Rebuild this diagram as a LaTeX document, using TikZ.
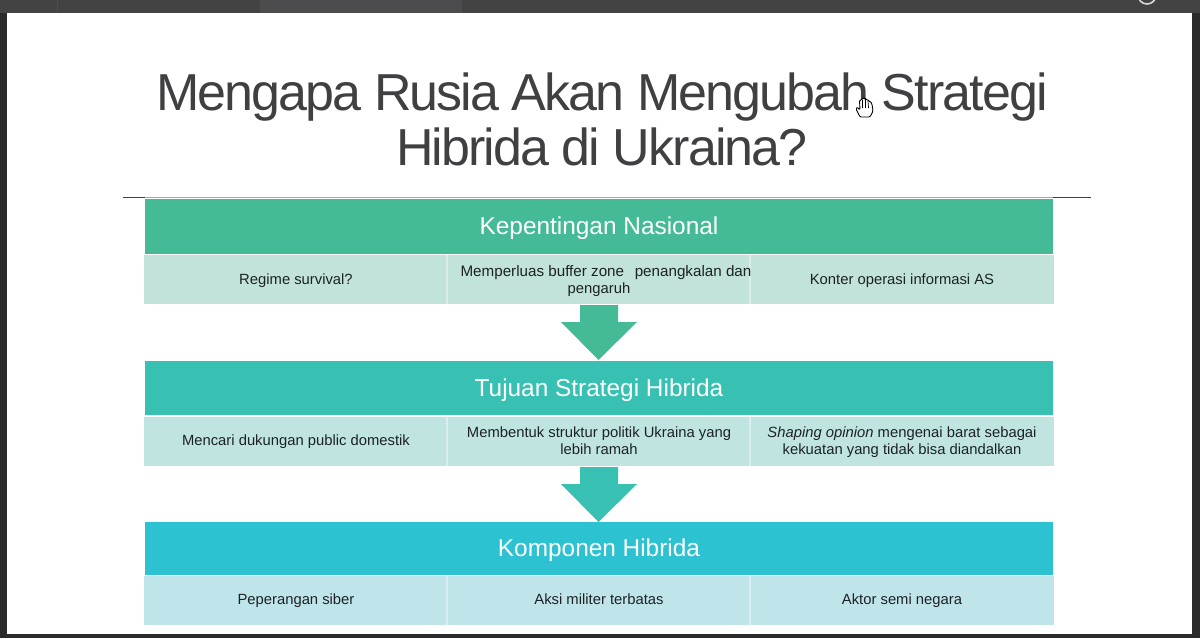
\documentclass[tikz,border=0pt]{standalone}
\usepackage{fontspec}
\setmainfont{Liberation Sans}
\newfontfamily\titlefont[LetterSpace=-3.7]{Liberation Sans}
\definecolor{frameC}{HTML}{2B2A2C}
\definecolor{barC}{HTML}{434343}
\definecolor{tabC}{HTML}{4C4B4D}
\definecolor{titleC}{HTML}{404043}
\definecolor{headA}{HTML}{45BA97}
\definecolor{rowA}{HTML}{C2E3D9}
\definecolor{headB}{HTML}{38C1B2}
\definecolor{rowB}{HTML}{C0E5E1}
\definecolor{headC}{HTML}{2CC2D1}
\definecolor{rowC}{HTML}{BFE5EA}
\definecolor{inkC}{HTML}{1C2226}
\tikzset{
  headbox/.style={inner sep=0pt,text=white,font=\fontsize{12.2}{14}\selectfont,anchor=center},
  celltext/.style={inner sep=0pt,text=inkC,align=center,font=\fontsize{7.4}{8.5}\selectfont,anchor=center},
  titletext/.style={inner sep=0pt,text=titleC,align=center,font=\titlefont\fontsize{26}{27.6}\selectfont,anchor=center},
}
\newcommand{\rowblock}[8]{%
  % #1 head top, #2 head bottom, #3 row top, #4 row bottom, #5 head colour, #6 row colour, #7 left inset, #8 head text
  \fill[#5] (#7,#1) rectangle ({1198-#7},#2);
  \fill[#6] (144,#3) rectangle (1054,#4);
  \draw[white,opacity=.4,line width=.6pt] (447,#3) -- (447,#4) (750,#3) -- (750,#4);
  \node[headbox] at (599,{(#1+#2)/2+2}) {#8};
}
\begin{document}
\begin{tikzpicture}[x=0.5pt,y=-0.5pt]
\useasboundingbox (0,0) rectangle (1200,638);
\fill[frameC] (0,0) rectangle (1200,638);
\fill[barC] (0,0) rectangle (1200,13);
\fill[tabC] (260,0) rectangle (461,13);
\draw[black!70,line width=.3pt] (57,0) -- (57,13) (260,0) -- (260,13) (461,0) -- (461,13);
\draw[white!85!black,line width=.8pt] (1147,-5) circle (9);
\fill[white] (7,13) rectangle (1191.5,634);
% title
\node[titletext] (title) at (602,127) {\strut Mengapa Rusia Akan Mengubah Strategi\\Hibrida di Ukraina?\strut};
% rule
\draw[black!75,line width=.4pt] (123,197.5) -- (145,197.5) (1053,197.5) -- (1091,197.5);
\draw[black!35,line width=.6pt] (145,197.5) -- (1053,197.5);
% block 1
\rowblock{199}{254}{255}{304}{headA}{rowA}{145}{Kepentingan Nasional}
\node[celltext] (a1) at (296,280.6) {\strut Regime survival?};
\node[celltext] (a2) at (599,281.5) {\strut\hspace*{7pt}{\fontsize{7.6}{8.5}\selectfont Memperluas buffer zone\hspace{.7em}penangkalan dan}\\\strut pengaruh};
\node[celltext] (a3) at (902,280.6) {\strut Konter operasi informasi AS};
% block 2
\rowblock{361}{415}{417}{466}{headB}{rowB}{145}{Tujuan Strategi Hibrida}
\node[celltext] (b1) at (296,442.5) {\strut Mencari dukungan public domestik};
\node[celltext] (b2) at (599,442.5) {\strut Membentuk struktur politik Ukraina yang\\\strut lebih ramah};
\node[celltext] (b3) at (902,442.5) {\strut\textit{Shaping opinion} mengenai barat sebagai\\\strut kekuatan yang tidak bisa diandalkan};
% block 3
\rowblock{522}{575}{576}{625}{headC}{rowC}{145}{Komponen Hibrida}
\node[celltext] (c1) at (296,601.5) {\strut Peperangan siber};
\node[celltext] (c2) at (599,601.5) {\strut Aksi militer terbatas};
\node[celltext] (c3) at (902,601.5) {\strut Aktor semi negara};
% block arrows
\fill[headA] (580,305) -- (618,305) -- (618,322) -- (637,322) -- (598.5,360) -- (561,322) -- (580,322) -- cycle;
\fill[headB] (580,467) -- (618,467) -- (618,484) -- (637,484) -- (598.5,522) -- (561,484) -- (580,484) -- cycle;
% hand cursor
\begin{scope}[shift={(865,107)}]
\filldraw[fill=white,draw=black,line width=.45pt,line join=round,rounded corners=.6pt]
  (-5,10) -- (-9,2) -- (-8,0) -- (-5,3) -- (-5.5,-7) -- (-3,-7) -- (-2.5,-9) -- (-.5,-9) -- (0,-8) -- (2,-8) -- (3,-6) -- (5,-6) -- (7,-3) -- (8,4) -- (5,10) -- cycle;
\draw[black,line width=.35pt] (-2.5,-7) -- (-2.5,1) (0.5,-8) -- (0.5,1) (3,-6) -- (3.5,1);
\end{scope}
\end{tikzpicture}
\end{document}
